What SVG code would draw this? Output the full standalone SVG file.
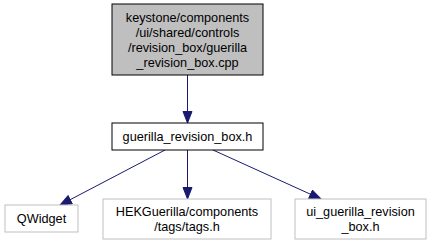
<svg xmlns="http://www.w3.org/2000/svg" width="431" height="245" viewBox="0 0 431 245">
<defs>
<style>
text{font-family:"Liberation Sans",Arial,sans-serif;font-size:12.7px;fill:#000;text-anchor:middle}
.e{stroke:#191970;stroke-width:1;fill:none}
</style>
<marker id="ah" markerUnits="userSpaceOnUse" markerWidth="14" markerHeight="12" refX="12" refY="5" orient="auto">
<polygon points="0.5,0.5 12,5 0.5,9.5" fill="#191970" stroke="#191970"/>
</marker>
</defs>
<rect width="431" height="245" fill="#fff"/>
<g id="edges">
<path class="e" d="M187.5,75 L187.5,123" marker-end="url(#ah)"/>
<path class="e" d="M165,150 L60,205" marker-end="url(#ah)"/>
<path class="e" d="M187.5,150 L187.5,199" marker-end="url(#ah)"/>
<path class="e" d="M213,150 L321,199" marker-end="url(#ah)"/>
</g>
<g id="node1">
<rect x="112" y="4" width="151" height="71" fill="#bfbfbf" stroke="#000"/>
<text x="187.5" y="22">keystone/components</text>
<text x="187.5" y="37">/ui/shared/controls</text>
<text x="187.5" y="52">/revision_box/guerilla</text>
<text x="187.5" y="67">_revision_box.cpp</text>
</g>
<g id="node2">
<rect x="112" y="123" width="151" height="27" fill="#fff" stroke="#000"/>
<text x="187.5" y="141">guerilla_revision_box.h</text>
</g>
<g id="node3">
<rect x="5" y="205" width="73" height="27" fill="#fff" stroke="#bfbfbf"/>
<text x="41.5" y="223">QWidget</text>
</g>
<g id="node4">
<rect x="103" y="199" width="168" height="40" fill="#fff" stroke="#bfbfbf"/>
<text x="187" y="216">HEKGuerilla/components</text>
<text x="187" y="231">/tags/tags.h</text>
</g>
<g id="node5">
<rect x="295" y="199" width="131" height="40" fill="#fff" stroke="#bfbfbf"/>
<text x="360.5" y="216">ui_guerilla_revision</text>
<text x="360.5" y="231">_box.h</text>
</g>
</svg>
